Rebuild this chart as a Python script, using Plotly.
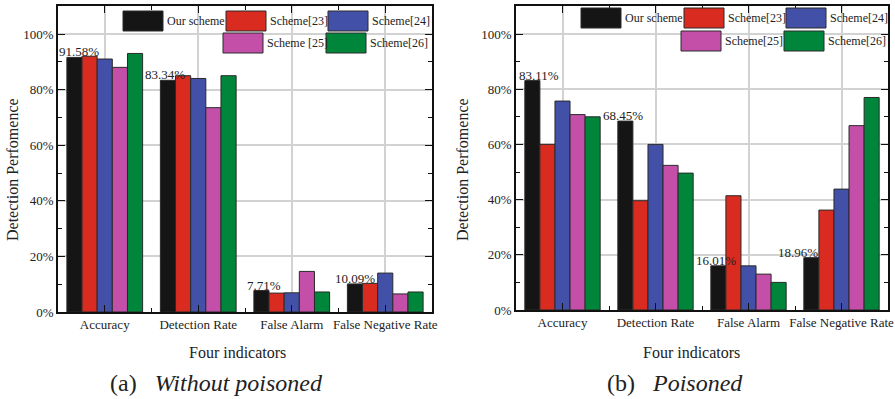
import plotly.graph_objects as go

# ---------------- data ----------------
categories = ["Accuracy", "Detection Rate", "False Alarm", "False Negative Rate"]
series_names = ["Our scheme", "Scheme[23]", "Scheme[24]", "Scheme [25]", "Scheme[26]"]
series_names_b = ["Our scheme", "Scheme[23]", "Scheme[24]", "Scheme[25]", "Scheme[26]"]

# (a) Without poisoned
a_our = [91.58, 83.34, 7.71, 10.09]
a_s23 = [92.0, 85.0, 6.8, 10.3]
a_s24 = [91.0, 84.0, 6.9, 14.0]
a_s25 = [88.0, 73.5, 14.6, 6.5]
a_s26 = [93.0, 85.0, 7.2, 7.2]

# (b) Poisoned
b_our = [83.11, 68.45, 16.01, 18.96]
b_s23 = [60.0, 39.6, 41.4, 36.2]
b_s24 = [75.7, 60.0, 16.0, 43.8]
b_s25 = [70.8, 52.4, 13.0, 66.8]
b_s26 = [70.0, 49.6, 10.0, 77.0]

y_tick_vals = [0, 20, 40, 60, 80, 100]
y_tick_text = ["0%", "20%", "40%", "60%", "80%", "100%"]

x_title = "Four indicators"
y_title = "Detection Perfomence"
caption_a = "(a)&nbsp;&nbsp;&nbsp;<i>Without poisoned</i>"
caption_b = "(b)&nbsp;&nbsp;&nbsp;<i>Poisoned</i>"

# ---------------- styles ----------------
colors = ["#151515", "#d92b1f", "#4250a8", "#c44fa8", "#00863a"]
FONT = "'Liberation Serif', 'Times New Roman', Times, 'DejaVu Serif', serif"
W, H = 895, 399
BARGAP = 0.19
label_shift_a = [5, -3, 3, 0]
label_shift_b = [7, -2, -2, -13]

fig = go.Figure()

panels = [
    dict(series=[a_our, a_s23, a_s24, a_s25, a_s26], names=series_names, xa="x", ya="y", shifts=label_shift_a),
    dict(series=[b_our, b_s23, b_s24, b_s25, b_s26], names=series_names_b, xa="x2", ya="y2", shifts=label_shift_b),
]

xpos = list(range(len(categories)))
annots = []
for p in panels:
    n = len(p["series"])
    for i, (vals, name) in enumerate(zip(p["series"], p["names"])):
        fig.add_trace(go.Bar(
            x=xpos, y=vals, name=name, xaxis=p["xa"], yaxis=p["ya"],
            marker=dict(color=colors[i], line=dict(color="#2a2a2a", width=1)),
            showlegend=False, hoverinfo="skip",
        ))
    # value labels above "Our scheme" bars
    off = -(1 - BARGAP) / 2 + (1 - BARGAP) / n / 2
    for xi, v, sh in zip(xpos, p["series"][0], p["shifts"]):
        annots.append(dict(xref=p["xa"], yref=p["ya"], x=xi + off, y=v,
                           text=f"{v:.2f}%", showarrow=False, xanchor="center", yanchor="bottom",
                           xshift=sh, yshift=-4,
                           font=dict(family=FONT, size=13, color="#222")))

# pixel geometry of the two plot areas
pa = dict(x0=58, x1=432, top=6.2, bottom=312)
pb = dict(x0=516, x1=888, top=6.4, bottom=310)

def dom_x(p):
    return [p["x0"] / W, p["x1"] / W]

def dom_y(p):
    return [1 - p["bottom"] / H, 1 - p["top"] / H]

axis_common = dict(
    showline=True, linecolor="#111", linewidth=1.5, mirror="ticks",
    ticks="inside", tickcolor="#111", tickwidth=1.2,
    tickfont=dict(family=FONT, size=13, color="#222"),
    zeroline=False, automargin=False,
)
xcommon = dict(axis_common, range=[-0.5, 3.5], tickvals=xpos, ticktext=categories,
               ticklen=7, showgrid=True, gridcolor="#d2d2d2", gridwidth=1.5,
               minor=dict(ticks="inside", tick0=0.5, dtick=1, ticklen=4, tickcolor="#111", showgrid=False))
ycommon = dict(axis_common, range=[0, 110], tickvals=y_tick_vals, ticktext=y_tick_text,
               ticklen=7, showgrid=True, gridcolor="#d2d2d2", gridwidth=1.5,
               minor=dict(ticks="inside", tick0=0, dtick=10, ticklen=4, tickcolor="#111", showgrid=False))

fig.update_layout(
    width=W, height=H, margin=dict(l=0, r=0, t=0, b=0, pad=0), autosize=False,
    paper_bgcolor="white", plot_bgcolor="white",
    barmode="group", bargap=BARGAP, bargroupgap=0,
    showlegend=False,
    xaxis=dict(xcommon, domain=dom_x(pa), anchor="y"),
    yaxis=dict(ycommon, domain=dom_y(pa), anchor="x"),
    xaxis2=dict(xcommon, domain=dom_x(pb), anchor="y2"),
    yaxis2=dict(ycommon, domain=dom_y(pb), anchor="x2"),
    font=dict(family=FONT, color="#222"),
)

shapes = []

def px(x):
    return x / W

def py(y):
    return 1 - y / H

# custom legends (large swatches like the original)
def add_legend(p, names, row1_top, row2_top):
    sw, sh = 40, 20
    items = [(65, row1_top), (168, row1_top), (270, row1_top), (165, row2_top), (268, row2_top)]
    shapes.append(dict(type="rect", xref="paper", yref="paper", layer="between",
                       x0=px(p["x0"] + 64), x1=px(p["x1"] - 1), y0=py(row1_top + sh), y1=py(p["top"] + 1),
                       fillcolor="white", line=dict(width=0)))
    shapes.append(dict(type="rect", xref="paper", yref="paper", layer="between",
                       x0=px(p["x0"] + 164), x1=px(p["x1"] - 1), y0=py(row2_top + sh + 1), y1=py(row1_top + sh),
                       fillcolor="white", line=dict(width=0)))
    for i, (name, (ox, oy)) in enumerate(zip(names, items)):
        x0 = p["x0"] + ox
        annots.append(dict(xref="paper", yref="paper", x=px(x0 + sw + 2), y=py(oy + sh / 2),
                           xanchor="left", yanchor="middle", showarrow=False, text=name,
                           font=dict(family=FONT, size=12, color="#222")))
    for i, (name, (ox, oy)) in enumerate(zip(names, items)):
        x0 = p["x0"] + ox
        shapes.append(dict(type="rect", xref="paper", yref="paper", layer="above",
                           x0=px(x0), x1=px(x0 + sw), y0=py(oy + sh), y1=py(oy),
                           fillcolor=colors[i], line=dict(color="#2a2a2a", width=1)))

add_legend(pa, series_names, 11, 33)
add_legend(pb, series_names_b, 8, 31)

# axis titles and captions
for p, xt_x, yt_x, cap, cap_x in [(pa, 237, 12, caption_a, 216), (pb, 691, 462, caption_b, 675)]:
    annots.append(dict(xref="paper", yref="paper", x=px(xt_x), y=py(352), showarrow=False,
                       text=x_title, xanchor="center", yanchor="middle",
                       font=dict(family=FONT, size=16, color="#222")))
    annots.append(dict(xref="paper", yref="paper", x=px(yt_x), y=py(170), showarrow=False,
                       text=y_title, textangle=-90, xanchor="center", yanchor="middle",
                       font=dict(family=FONT, size=16, color="#222")))
    annots.append(dict(xref="paper", yref="paper", x=px(cap_x), y=py(383), showarrow=False,
                       text=cap, xanchor="center", yanchor="middle",
                       font=dict(family=FONT, size=24, color="#222")))

fig.update_layout(shapes=shapes, annotations=annots)
fig.write_html("out.html", config={"displayModeBar": False},
               post_script="document.body.style.margin='0';document.body.style.overflow='hidden';")
